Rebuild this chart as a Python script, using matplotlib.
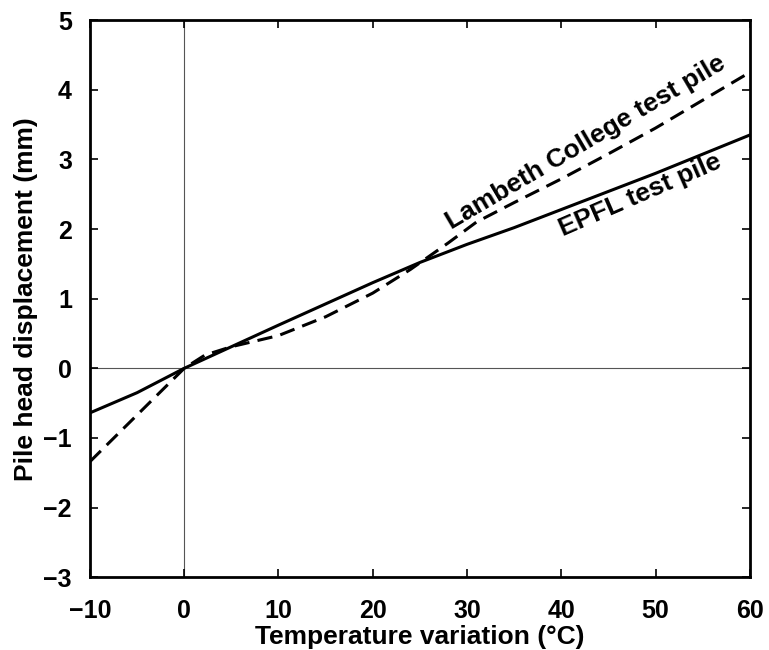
import matplotlib
matplotlib.use('Agg')
import matplotlib.pyplot as plt

epfl_t = [-10, -5, 0, 5, 10, 20, 25, 30, 35, 40, 50, 60]
epfl_d = [-0.64, -0.35, 0.0, 0.31, 0.62, 1.23, 1.52, 1.78, 2.02, 2.28, 2.8, 3.35]

lambeth_t = [-10, -5, 0, 2.2, 5, 10, 15, 20, 24, 28, 31, 35, 40, 45, 50, 55, 60]
lambeth_d = [-1.34, -0.67, 0.0, 0.19, 0.31, 0.47, 0.74, 1.08, 1.42, 1.8, 2.1, 2.38, 2.72, 3.08, 3.45, 3.85, 4.25]

xticks = [-10, 0, 10, 20, 30, 40, 50, 60]
yticks = [-3, -2, -1, 0, 1, 2, 3, 4, 5]

plt.rcParams['font.family'] = ['Liberation Sans', 'DejaVu Sans']
plt.rcParams['font.weight'] = 'bold'

fig = plt.figure(figsize=(7.69, 6.5), dpi=100)
ax = fig.add_axes([0.117, 0.112, 0.858, 0.857])

ax.axhline(0, color='#555555', lw=0.8, zorder=1)
ax.axvline(0, color='#555555', lw=0.8, zorder=1)

ax.plot(epfl_t, epfl_d, color='black', lw=2.2, zorder=3)
ax.plot(lambeth_t, lambeth_d, color='black', lw=2.2, ls=(0, (5, 2.7)), zorder=3)

ax.set_xlim(-10, 60)
ax.set_ylim(-3, 5)
ax.set_xticks(xticks)
ax.set_yticks(yticks)
ax.set_xticklabels([str(t).replace('-', '\u2212') for t in xticks])
ax.set_yticklabels([str(t).replace('-', '\u2212') for t in yticks])
ax.tick_params(direction='in', length=6, width=1.2, labelsize=18,
               top=True, right=True)
ax.tick_params(axis='x', pad=16)
ax.tick_params(axis='y', pad=13)
for s in ax.spines.values():
    s.set_linewidth(2)

ax.set_xlabel('Temperature variation (\u00b0C)', fontsize=19, fontweight='bold', labelpad=1)
ax.set_ylabel('Pile head displacement (mm)', fontsize=19, fontweight='bold', labelpad=4)

ax.text(42.6, 3.24, 'Lambeth College test pile', fontsize=19, fontweight='bold',
        rotation=30.5, ha='center', va='center')
ax.text(48.4, 2.48, 'EPFL test pile', fontsize=19, fontweight='bold',
        rotation=23.5, ha='center', va='center')

fig.savefig('out.png', dpi=100)
